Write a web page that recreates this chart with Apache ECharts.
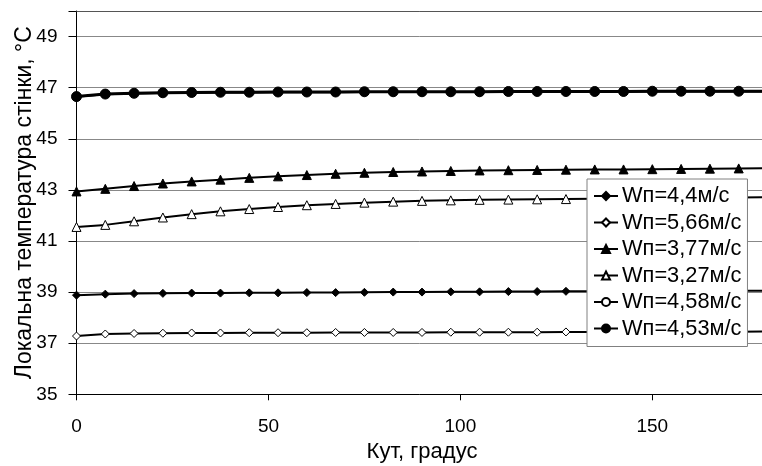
<!DOCTYPE html>
<html>
<head>
<meta charset="utf-8">
<script src="https://cdn.jsdelivr.net/npm/echarts@6/dist/echarts.min.js"></script>
<style>
  html, body { margin: 0; padding: 0; background: #fff; }
  #chart { width: 762px; height: 466px; }
</style>
</head>
<body>
<div id="chart"></div>
<script>
// кут, градус (крок 7.5)
const angles = [0, 7.5, 15, 22.5, 30, 37.5, 45, 52.5, 60, 67.5, 75, 82.5, 90,
  97.5, 105, 112.5, 120, 127.5, 135, 142.5, 150, 157.5, 165, 172.5, 180]
const xTicks = [0, 50, 100, 150]
const yTicks = [35, 37, 39, 41, 43, 45, 47, 49]

// локальна температура стінки
const w44 = [38.88, 38.92, 38.94, 38.95, 38.96, 38.96, 38.97, 38.97, 38.98, 38.98, 38.99, 39.00, 39.00,
  39.01, 39.01, 39.02, 39.02, 39.03, 39.03, 39.03, 39.04, 39.04, 39.04, 39.05, 39.05]
const w566 = [37.28, 37.36, 37.38, 37.39, 37.40, 37.40, 37.41, 37.41, 37.41, 37.42, 37.42, 37.42, 37.42,
  37.43, 37.43, 37.43, 37.43, 37.44, 37.44, 37.44, 37.44, 37.45, 37.45, 37.45, 37.46]
const w377 = [42.94, 43.04, 43.15, 43.25, 43.33, 43.40, 43.47, 43.53, 43.58, 43.63, 43.67, 43.70, 43.72,
  43.74, 43.76, 43.77, 43.78, 43.79, 43.80, 43.80, 43.81, 43.82, 43.83, 43.84, 43.85]
const w327 = [41.55, 41.63, 41.77, 41.92, 42.05, 42.16, 42.25, 42.33, 42.40, 42.45, 42.50, 42.54, 42.57,
  42.59, 42.61, 42.62, 42.63, 42.64, 42.65, 42.66, 42.67, 42.68, 42.69, 42.70, 42.71]
const w458 = [46.64, 46.74, 46.77, 46.79, 46.80, 46.81, 46.81, 46.82, 46.82, 46.82, 46.83, 46.83, 46.83,
  46.83, 46.83, 46.84, 46.84, 46.84, 46.84, 46.84, 46.85, 46.85, 46.85, 46.85, 46.85]
const w453 = [46.65, 46.75, 46.78, 46.80, 46.81, 46.82, 46.82, 46.83, 46.83, 46.83, 46.84, 46.84, 46.84,
  46.84, 46.84, 46.85, 46.85, 46.85, 46.85, 46.85, 46.86, 46.86, 46.86, 46.86, 46.86]

const font = 'Arial, "Liberation Sans", sans-serif'

const pairs = ys => angles.map((a, i) => [a, ys[i]])

const makeSeries = (name, ys, symbol, size, open, width) => ({
  name,
  type: 'line',
  data: pairs(ys),
  symbol,
  symbolSize: size,
  showAllSymbol: true,
  lineStyle: { color: '#000', width: width },
  itemStyle: {
    color: open ? '#fff' : '#000',
    borderColor: '#000',
    borderWidth: 1
  },
  emphasis: { disabled: true },
  animation: false
})

const chart = echarts.init(document.getElementById('chart'))

const option = {
  backgroundColor: '#fff',
  animation: false,
  grid: { left: 76.5, top: 11, bottom: 71.7, right: -5.5, outerBoundsMode: 'none', containLabel: false },
  legend: {
    orient: 'vertical',
    left: 587,
    top: 179,
    padding: [6, 6, 7, 6],
    itemWidth: 24,
    itemHeight: 10,
    itemGap: 4.5,
    backgroundColor: '#fff',
    borderColor: '#808080',
    borderWidth: 1,
    borderRadius: 0,
    textStyle: { fontFamily: font, fontSize: 21.8, color: '#000', padding: [0, 0, 0, -1] },
    data: ['Wп=4,4м/с', 'Wп=5,66м/с', 'Wп=3,77м/с', 'Wп=3,27м/с', 'Wп=4,58м/с', 'Wп=4,53м/с']
  },
  xAxis: [{
    type: 'value',
    min: 0,
    max: 180,
    interval: 50,
    name: 'Кут, градус',
    nameLocation: 'middle',
    nameGap: 47,
    nameMoveOverlap: false,
    nameTextStyle: { fontFamily: font, fontSize: 22, color: '#000' },
    axisLine: { lineStyle: { color: '#000', width: 1 } },
    axisTick: { length: 6, lineStyle: { color: '#000' } },
    axisLabel: {
      fontFamily: font, fontSize: 19, color: '#000', margin: 23,
      formatter: v => xTicks.includes(v) ? String(v) : ''
    },
    splitLine: { show: false }
  }, {
    type: 'value',
    position: 'top',
    min: 0,
    max: 180,
    axisLine: { show: true, onZero: false, lineStyle: { color: '#555', width: 1 } },
    axisTick: { show: false },
    axisLabel: { show: false },
    splitLine: { show: false }
  }],
  yAxis: {
    type: 'value',
    min: 35,
    max: 50,
    interval: 2,
    name: 'Локальна температура стінки, °С',
    nameLocation: 'middle',
    nameGap: 40,
    nameMoveOverlap: false,
    nameTextStyle: { fontFamily: font, fontSize: 23, color: '#000' },
    axisLine: { show: true, lineStyle: { color: '#000', width: 1 } },
    axisTick: { show: true, length: 8, lineStyle: { color: '#000' } },
    axisLabel: {
      fontFamily: font, fontSize: 19, color: '#000', margin: 19,
      formatter: v => yTicks.includes(v) ? String(v) : ''
    },
    splitLine: { show: true, lineStyle: { color: '#888', width: 1 } }
  },
  series: [
    makeSeries('Wп=4,4м/с', w44, 'diamond', 8, false, 2),
    makeSeries('Wп=5,66м/с', w566, 'diamond', 8, true, 2),
    makeSeries('Wп=3,77м/с', w377, 'triangle', 9, false, 2),
    makeSeries('Wп=3,27м/с', w327, 'triangle', 9, true, 2),
    makeSeries('Wп=4,58м/с', w458, 'circle', 8, true, 2),
    makeSeries('Wп=4,53м/с', w453, 'circle', 10, false, 3)
  ]
}

chart.setOption(option)
</script>
</body>
</html>
